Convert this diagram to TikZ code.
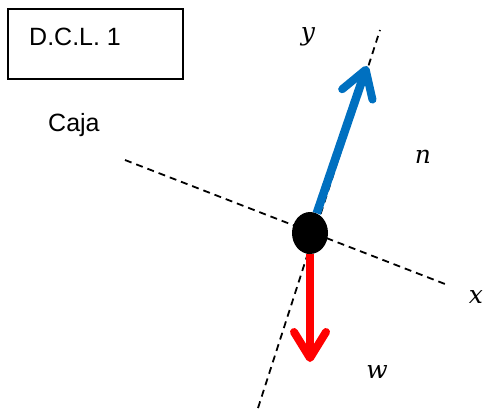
\documentclass[tikz,border=0pt]{standalone}
\usepackage{fontspec}
\setmainfont{Liberation Sans}
\newfontfamily\lblfont{DejaVu Serif}
\usetikzlibrary{arrows.meta,shapes.geometric}
\definecolor{vblue}{HTML}{0070C0}
\definecolor{vred}{HTML}{FF0000}
\tikzset{
  axisline/.style={draw=black, line width=1.8pt, dash pattern=on 7pt off 5pt},
  forcearrow/.style={line width=8.5pt, -{Straight Barb[length=26pt, width=32pt, line width=8pt, round]}},
  sanslabel/.style={font=\fontsize{25}{29}\selectfont, inner sep=0pt},
  mathlabel/.style={font=\lblfont\itshape\fontsize{25}{30}\selectfont, inner sep=0pt},
  titlebox/.style={draw=black, line width=1.3pt, minimum width=175pt, minimum height=70pt, inner sep=0pt}
}
\begin{document}
\begin{tikzpicture}[x=1pt,y=-1pt]
\useasboundingbox (0,0) rectangle (486,410);
% title box
\node[titlebox] (box) at (95.5,44) {};
\node[sanslabel, anchor=base west] (title) at (29,45) {D.C.L. 1};
\node[sanslabel, anchor=base west] (caja) at (48,131) {Caja};
% axes
\coordinate (xa) at (125,160);
\coordinate (xb) at (445,284);
\coordinate (ya) at (258,408);
\coordinate (yb) at (380,30);
\draw[axisline] (xa) -- (xb);
\draw[axisline] (ya) -- (yb);
% body
\node[ellipse, fill=black, minimum width=36pt, minimum height=42pt, inner sep=0pt] (c) at (310,233) {};
% forces
\coordinate (ntip) at (367,66);
\coordinate (wtip) at (310,362);
\draw[forcearrow, draw=vblue] (c) -- (ntip);
\draw[forcearrow, draw=vred] (c.south) -- (wtip);
% labels
\node[mathlabel] (ly) at (308,37) {y};
\node[mathlabel] (ln) at (423,157) {n};
\node[mathlabel] (lx) at (476,297) {x};
\node[mathlabel] (lw) at (377,372) {w};
\end{tikzpicture}
\end{document}
